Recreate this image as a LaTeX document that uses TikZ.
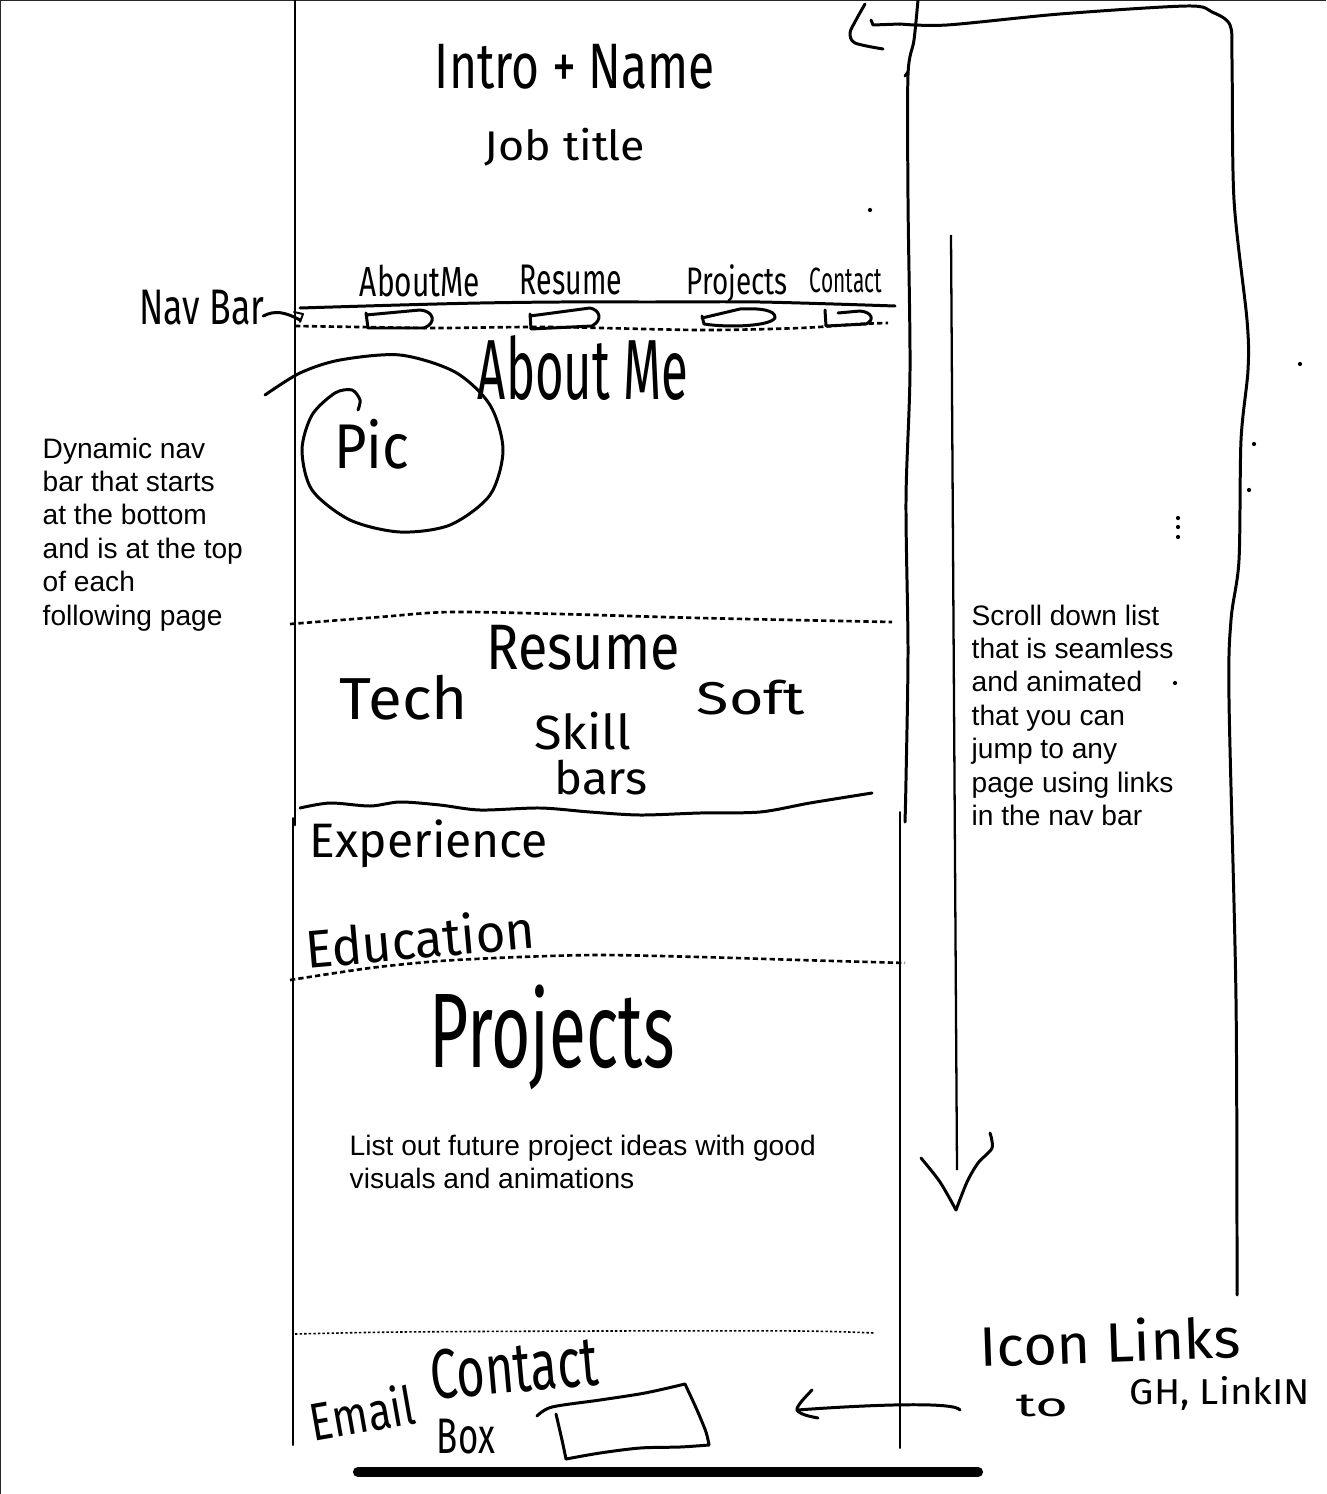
\documentclass[tikz,border=0pt]{standalone}
\usepackage{fontspec}
\usepackage{graphicx}
\newfontfamily\handfont{Fira Sans}
\newfontfamily\typedfont{Liberation Sans}
% handwritten-style label squeezed into a given width and total height (cm)
\newcommand\hw[3]{\resizebox*{#1cm}{#2cm}{\handfont #3}}
\begin{document}
\begin{tikzpicture}[x=0.01cm,y=-0.01cm,
  ink/.style={line width=0.85pt,line cap=round,line join=round},
  thinink/.style={line width=0.55pt,line cap=round,line join=round},
  dashink/.style={line width=0.75pt,dash pattern=on 1.5pt off 0.9pt},
  dotink/.style={line width=0.45pt,dash pattern=on 0.7pt off 0.6pt},
  hand/.style={inner sep=0pt},
  note/.style={inner sep=0pt,align=left,anchor=north west,
    font=\typedfont\fontsize{8pt}{9.5pt}\selectfont},
  speck/.style={fill=black,inner sep=0pt,minimum size=1.2pt,circle}]
\useasboundingbox (0,0) rectangle (1326,1494);
\fill[white] (0,0) rectangle (1326,1494);
% frame edges
\draw[line width=0.6pt,black!85] (0,1494) -- (0,0) -- (1326,0);

% ---------- phone page outline ----------
\draw[ink] (295,0) -- (295,825);
\draw[thinink] (293,818) -- (293,1445);
\draw[ink] plot[smooth] coordinates {(918,0) (914,40) (908,75) (908,200) (910,370) (906,500) (908,650) (906,780) (905,822)};
\draw[ink] (908,72) -- (905,76);
\draw[thinink] (900,812) -- (900,1448);

% ---------- top: intro ----------
\node[hand] (intro) at (575,67) {\hw{2.80}{0.45}{Intro + Name}};
\node[hand] (job) at (565,147) {\hw{1.60}{0.38}{Job title}};

% ---------- nav bar ----------
\node[hand] (tabAbout) at (420,281) {\hw{1.20}{0.32}{AboutMe}};
\node[hand] (tabResume) at (571,280) {\hw{1.02}{0.30}{Resume}};
\node[hand] (tabProjects) at (737,284) {\hw{1.01}{0.38}{Projects}};
\node[hand] (tabContact) at (846,280) {\hw{0.72}{0.25}{Contact}};
\node[hand] (navlabel) at (202,308) {\hw{1.25}{0.35}{Nav Bar}};
\coordinate (navtip) at (300,320);
\draw[ink] (navlabel.east) ++(-2,8) .. controls (275,310) and (285,312) .. (navtip);
\draw[thinink] (294,312) -- (303,314) -- (300,322);

\draw[ink] plot[smooth] coordinates {(300,308) (400,305) (480,303) (560,302) (650,302) (760,302) (895,306)};
% tab outlines under the bar
\draw[ink] (366,313) -- (368,328) -- (424,328) .. controls (437,323) and (434,311) .. (420,310) -- (366,315);
\draw[ink] (530,314) -- (531,329) -- (592,326) .. controls (603,320) and (600,310) .. (590,308) -- (530,316);
\draw[ink] (702,316) -- (704,324) .. controls (730,328) and (770,326) .. (775,318) .. controls (776,310) and (760,308) .. (740,309) -- (702,318);
\draw[ink] (825,310) -- (826,326) -- (866,324) .. controls (875,320) and (872,312) .. (860,311) -- (838,313);
\draw[dashink] plot[smooth] coordinates {(295,326) (360,327) (440,328) (550,327) (700,330) (800,328) (860,324) (888,323)};

% ---------- about me ----------
\node[hand] (aboutme) at (583,368) {\hw{2.10}{0.65}{About Me}};
\draw[ink] plot[smooth] coordinates {(265,395) (300,373) (340,360) (400,355) (455,372) (490,405) (503,450) (490,495) (450,525) (400,532) (350,520) (312,490) (302,450) (312,415) (335,393) (352,390) (360,400) (358,410)};
\node[hand] (pic) at (372,444) {\hw{0.75}{0.50}{Pic}};
\draw[dashink] plot[smooth] coordinates {(290,624) (380,617) (450,612) (560,614) (700,618) (892,622)};

% ---------- resume ----------
\node[hand] (resume) at (583,648) {\hw{1.93}{0.45}{Resume}};
\node[hand] (tech) at (404,698) {\hw{1.28}{0.45}{Tech}};
\node[hand] (soft) at (751,698) {\hw{1.08}{0.35}{Soft}};
\node[hand] (skill) at (583,731) {\hw{0.97}{0.38}{Skill}};
\node[hand] (bars) at (601,778) {\hw{0.93}{0.35}{bars}};
\draw[ink] plot[smooth] coordinates {(300,808) (330,803) (370,806) (400,802) (440,805) (480,810) (540,808) (590,812) (640,815) (700,813) (760,812) (810,803) (872,793)};

% ---------- experience / education ----------
\node[hand] (experience) at (429,844) {\hw{2.38}{0.48}{Experience}};
\node[hand,rotate=5] (education) at (420,938) {\hw{2.30}{0.42}{Education}};
\draw[dashink] plot[smooth] coordinates {(290,980) (370,968) (440,961) (520,957) (600,955) (700,957) (800,960) (905,963)};

% ---------- projects ----------
\node[hand] (projects) at (552,1037) {\hw{2.45}{1.05}{Projects}};
\node[note] (projnote) at (349,1134) {List out future project ideas with good\\visuals and animations};
\draw[dotink] plot[smooth] coordinates {(295,1334) (400,1332) (600,1331) (800,1331) (874,1333)};

% ---------- contact ----------
\node[hand,rotate=5] (contact) at (514,1368) {\hw{1.68}{0.50}{Contact}};
\node[hand,rotate=10] (email) at (362,1412) {\hw{1.05}{0.42}{Email}};
\node[hand] (boxlbl) at (466,1437) {\hw{0.58}{0.35}{Box}};
\draw[ink] plot[smooth] coordinates {(537,1416) (552,1407) (600,1400) (645,1393) (685,1384)};
\draw[ink] plot[smooth] coordinates {(685,1384) (697,1410) (706,1432) (709,1445)};
\draw[ink] plot[smooth] coordinates {(709,1445) (680,1447) (640,1448) (600,1453) (566,1459)};
\draw[ink] plot[smooth] coordinates {(566,1459) (562,1440) (556,1414)};

% ---------- icon links note ----------
\node[hand,rotate=2] (icon) at (1110,1341) {\hw{2.60}{0.44}{Icon Links}};
\node[hand] (to) at (1042,1406) {\hw{0.52}{0.22}{to}};
\node[hand] (gh) at (1220,1393) {\hw{1.80}{0.34}{GH, LinkIN}};
\coordinate (arrowtail) at (960,1410);
\coordinate (arrowtip) at (797,1410);
\draw[ink] (arrowtail) .. controls (955,1402) and (880,1404) .. (arrowtip);
\draw[ink] plot[smooth] coordinates {(812,1390) (801,1402) (797,1410) (805,1415) (818,1418)};

% ---------- scroll bracket and arrow ----------
\draw[ink] plot[smooth] coordinates {(865,4) (856,20) (850,33) (855,43) (883,49)};
\draw[ink] (871,20) -- (873,25) -- (900,24);
\draw[ink] plot[smooth] coordinates {(900,24) (947,25) (1060,14) (1187,6) (1212,12) (1230,25) (1232,60) (1234,200) (1247,320) (1248,370) (1241,440) (1239,560) (1231,620) (1229,700) (1236,1000) (1237,1295)};
\coordinate (scrolltop) at (951,235);
\coordinate (scrollend) at (957,1170);
\draw[line width=0.65pt] (scrolltop) -- (scrollend);
\draw[ink] plot[smooth] coordinates {(921,1158) (940,1182) (956,1210)};
\draw[ink] plot[smooth] coordinates {(956,1210) (967,1182) (978,1163) (992,1148) (990,1133)};

% ---------- typed notes ----------
\node[note] (navnote) at (42,437) {Dynamic nav\\bar that starts\\at the bottom\\and is at the top\\of each\\following page};
\node[note] (scrollnote) at (971,604) {Scroll down list\\that is seamless\\and animated\\that you can\\jump to any\\page using links\\in the nav bar};

% ---------- stray specks ----------
\node[speck] (s1) at (870,210) {};
\node[speck] (s2) at (1300,364) {};
\node[speck] (s3) at (1254,444) {};
\node[speck] (s4) at (1249,490) {};
\node[speck] (s5) at (1178,518) {};
\node[speck] (s6) at (1178,527) {};
\node[speck] (s7) at (1178,537) {};
\node[speck] (s8) at (1175,683) {};

% ---------- home indicator ----------
\draw[line width=2.9pt,line cap=round] (358,1472) -- (978,1472);
\end{tikzpicture}
\end{document}
